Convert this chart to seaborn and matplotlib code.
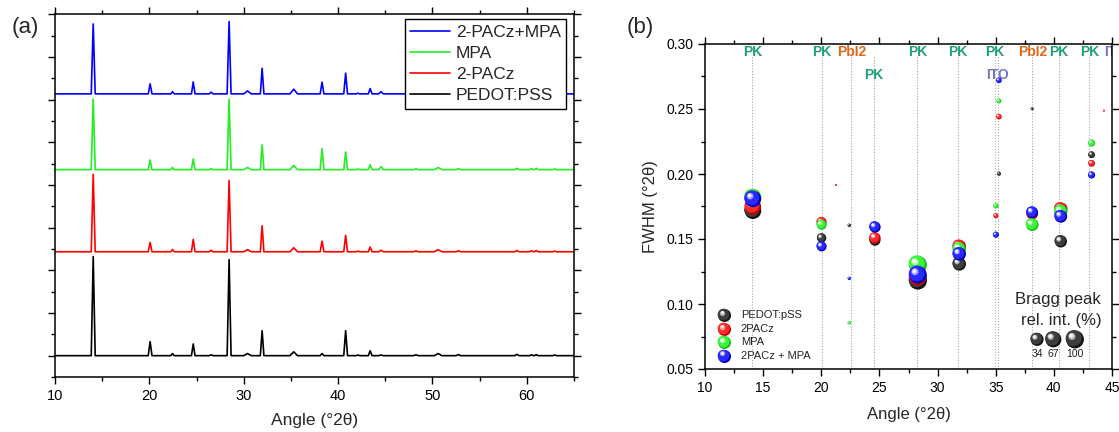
import numpy as np
import matplotlib
matplotlib.use('Agg')
import matplotlib.pyplot as plt
import matplotlib.colors as mcolors
from matplotlib.ticker import MultipleLocator
import seaborn as sns

sns.set_theme(style='ticks')
plt.rcParams['font.family'] = ['Liberation Sans', 'DejaVu Sans']
plt.rcParams['axes.linewidth'] = 1.0

# ---------------- panel (a): XRD patterns, line vertices ----------------
angle_a = [10.0,
           13.84, 14.05, 14.26, 19.88, 20.08, 20.28, 22.27, 22.45, 22.63,
           24.46, 24.65, 24.84, 26.35, 26.55, 26.75, 28.24, 28.45, 28.66,
           30.00, 30.40, 30.80, 31.76, 31.95, 32.14, 34.90, 35.30, 35.70,
           38.10, 38.30, 38.50, 40.60, 40.80, 41.00, 41.90, 42.10, 42.30,
           43.20, 43.40, 43.60, 44.30, 44.55, 44.80, 48.00, 48.25, 48.50,
           50.20, 50.60, 51.00, 52.50, 52.75, 53.00, 58.70, 58.95, 59.20,
           60.30, 60.50, 60.70, 60.80, 61.00, 61.20, 62.75, 62.95, 63.15,
           65.0]
pedot_a = [0,
           0, 4.64, 0, 0, 0.66, 0, 0, 0.10, 0,
           0, 0.55, 0, 0, 0.04, 0, 0, 4.50, 0,
           0, 0.10, 0, 0, 1.17, 0, 0, 0.18, 0,
           0, 0.10, 0, 0, 1.17, 0, 0, 0.03, 0,
           0, 0.23, 0, 0, 0.03, 0, 0, 0.04, 0,
           0, 0.10, 0, 0, 0.05, 0, 0, 0.06, 0,
           0, 0.04, 0, 0, 0.05, 0, 0, 0.03, 0,
           0]
pacz_a = [0,
          0, 3.63, 0, 0, 0.44, 0, 0, 0.10, 0,
          0, 0.58, 0, 0, 0.07, 0, 0, 3.34, 0,
          0, 0.10, 0, 0, 1.22, 0, 0, 0.19, 0,
          0, 0.50, 0, 0, 0.77, 0, 0, 0.03, 0,
          0, 0.22, 0, 0, 0.07, 0, 0, 0.04, 0,
          0, 0.10, 0, 0, 0.05, 0, 0, 0.06, 0,
          0, 0.05, 0, 0, 0.06, 0, 0, 0.03, 0,
          0]
mpa_a = [0,
         0, 3.31, 0, 0, 0.45, 0, 0, 0.10, 0,
         0, 0.50, 0, 0, 0.05, 0, 0, 3.31, 0,
         0, 0.10, 0, 0, 1.16, 0, 0, 0.19, 0,
         0, 0.98, 0, 0, 0.83, 0, 0, 0.03, 0,
         0, 0.23, 0, 0, 0.14, 0, 0, 0.03, 0,
         0, 0.10, 0, 0, 0.05, 0, 0, 0.06, 0,
         0, 0.05, 0, 0, 0.06, 0, 0, 0.03, 0,
         0]
mix_a = [0,
         0, 3.28, 0, 0, 0.47, 0, 0, 0.10, 0,
         0, 0.56, 0, 0, 0.08, 0, 0, 3.39, 0,
         0, 0.14, 0, 0, 1.20, 0, 0, 0.22, 0,
         0, 0.55, 0, 0, 0.97, 0, 0, 0.03, 0,
         0, 0.25, 0, 0, 0.10, 0, 0, 0.03, 0,
         0, 0.08, 0, 0, 0.04, 0, 0, 0.05, 0,
         0, 0.04, 0, 0, 0.05, 0, 0, 0.03, 0,
         0]

# ---------------- panel (b): FWHM vs angle, bubble = relative Bragg peak intensity (%) ----------------
pedot_x = [14.12, 20.03, 22.41, 24.62, 28.31, 31.87, 35.28, 38.14, 40.60, 43.25]
pedot_y = [0.1718, 0.1508, 0.1605, 0.1490, 0.1180, 0.1308, 0.2002, 0.2502, 0.1482, 0.2148]
pedot_int = [78, 11, 0.35, 19, 100, 37, 0.67, 0.26, 28, 3.7]

pacz_x = [14.12, 20.03, 21.26, 24.62, 28.31, 31.87, 35.02, 35.28, 38.14, 40.60, 43.25, 44.30]
pacz_y = [0.1750, 0.1630, 0.1915, 0.1508, 0.1210, 0.1443, 0.1679, 0.2441, 0.1695, 0.1731, 0.2082, 0.2487]
pacz_int = [72, 14, 0.06, 21, 97, 37, 1.4, 1.9, 24, 37, 3.7, 0.06]

mpa_x = [14.12, 20.03, 22.41, 28.31, 31.87, 35.02, 35.28, 38.14, 40.60, 43.25]
mpa_y = [0.1820, 0.1610, 0.0856, 0.1302, 0.1423, 0.1756, 0.2562, 0.1610, 0.1712, 0.2238]
mpa_int = [80, 14, 0.35, 100, 37, 1.7, 1.4, 31, 37, 4.3]

mix_x = [14.12, 20.03, 22.41, 24.62, 28.31, 31.87, 35.02, 35.28, 38.14, 40.60, 43.25]
mix_y = [0.1808, 0.1443, 0.1197, 0.1592, 0.1225, 0.1385, 0.1533, 0.2720, 0.1705, 0.1674, 0.1992]
mix_int = [75, 14, 0.35, 21, 94, 37, 2.6, 1.9, 24, 31, 4.3]

# reference peak assignments (dotted lines + labels)
ref_angle = [14.07, 20.03, 22.58, 24.50, 28.26, 31.73, 34.90, 35.16, 38.14, 40.46, 43.05, 45.30]
ref_label = ['PK', 'PK', 'PbI2', 'PK', 'PK', 'PK', 'PK', 'ITO', 'PbI2', 'PK', 'PK', 'ITO']
ref_row = [1, 1, 1, 2, 1, 1, 1, 2, 1, 1, 1, 1]

bragg_levels = [34, 67, 100]

# ---------------- figure ----------------
DPI = 100
W, H = 1119, 432
fig = plt.figure(figsize=(W / DPI, H / DPI), dpi=DPI)
ax_a = fig.add_axes([55 / W, 55 / H, 519 / W, 362.7 / H])
ax_b = fig.add_axes([705 / W, 63 / H, 407 / W, 325 / H])

for ax in (ax_a, ax_b):
    ax.set_facecolor('white')
    for sp in ax.spines.values():
        sp.set_color('black')
        sp.set_linewidth(1.1)
    ax.tick_params(which='both', direction='out', top=True, right=True,
                   labeltop=False, labelright=False, colors='black', width=1.0)
    ax.tick_params(which='major', length=5)
    ax.tick_params(which='minor', length=3)

# ---- (a)
offsets = {'PEDOT:PSS': 0.0, '2-PACz': 4.87, 'MPA': 8.72, '2-PACz+MPA': 12.27}
traces = [('PEDOT:PSS', pedot_a, 'black'), ('2-PACz', pacz_a, '#ff0000'),
          ('MPA', mpa_a, '#22ee22'), ('2-PACz+MPA', mix_a, '#0000ff')]
handles = {}
for name, vals, col in traces:
    yy = np.array(vals) + offsets[name]
    sns.lineplot(x=angle_a, y=yy, ax=ax_a, color=col, lw=1.2, sort=False,
                 estimator=None, label=name, legend=False)
    handles[name] = ax_a.lines[-1]

ax_a.set_xlim(10, 65)
ax_a.set_ylim(-1, 16)
ax_a.xaxis.set_major_locator(MultipleLocator(10))
ax_a.xaxis.set_minor_locator(MultipleLocator(5))
ax_a.yaxis.set_major_locator(MultipleLocator(2))
ax_a.yaxis.set_minor_locator(MultipleLocator(1))
ax_a.tick_params(labelleft=False, labelsize=10.5)
ax_a.set_xlabel('Angle (°2θ)', fontsize=12.5, labelpad=7)
ax_a.set_ylabel('')
order = ['2-PACz+MPA', 'MPA', '2-PACz', 'PEDOT:PSS']
leg = ax_a.legend([handles[k] for k in order], order, loc='upper right',
                  bbox_to_anchor=(0.985, 0.986), borderaxespad=0, fontsize=12.5,
                  frameon=True, fancybox=False, framealpha=1, edgecolor='black',
                  handlelength=2.3, handletextpad=0.35, labelspacing=0.35,
                  borderpad=0.3)
leg.get_frame().set_linewidth(1.0)

# ---- (b)
xmin, xmax, ymin, ymax = 10, 45, 0.05, 0.30
ax_b.set_xlim(xmin, xmax)
ax_b.set_ylim(ymin, ymax)
px_x = 407 / (xmax - xmin)
px_y = 325 / (ymax - ymin)

SMAX = (18 * 72 / DPI) ** 2
size_norm = mcolors.PowerNorm(gamma=0.6, vmin=0, vmax=100)

shades = {
    'black': ('#141414', '#3d3d3d', '#d8d8d8'),
    'red': ('#c40000', '#ff2a2a', '#ffd0d0'),
    'green': ('#1cbc1c', '#3cf43c', '#dcffdc'),
    'blue': ('#0000bc', '#2a2aff', '#d0d0ff'),
}


def glint(ax, xs, ys, s, shade, z, sx, sy, trans):
    # body + highlight drawn over a rim disc to look like a shaded ball
    xs, ys, s = np.asarray(xs, float), np.asarray(ys, float), np.asarray(s, float)
    d = np.sqrt(s) * DPI / 72
    ax.scatter(xs - 0.07 * d / sx, ys + 0.07 * d / sy, s=s * 0.80, color=shade[1],
               lw=0, zorder=z + 0.1, transform=trans, clip_on=False)
    ax.scatter(xs - 0.17 * d / sx, ys + 0.17 * d / sy, s=s * 0.16, color=shade[2],
               lw=0, alpha=0.75, zorder=z + 0.2, transform=trans, clip_on=False)
    ax.scatter(xs - 0.20 * d / sx, ys + 0.20 * d / sy, s=s * 0.05, color='white',
               lw=0, alpha=0.9, zorder=z + 0.3, transform=trans, clip_on=False)


series = [('PEDOT:pSS', pedot_x, pedot_y, pedot_int, 'black'),
          ('2PACz', pacz_x, pacz_y, pacz_int, 'red'),
          ('MPA', mpa_x, mpa_y, mpa_int, 'green'),
          ('2PACz + MPA', mix_x, mix_y, mix_int, 'blue')]
for i, (name, xs, ys, ints, key) in enumerate(series):
    z = 3 + i
    sns.scatterplot(x=xs, y=ys, size=ints, sizes=(0, SMAX), size_norm=size_norm,
                    color=shades[key][0], linewidth=0, legend=False, ax=ax_b, zorder=z)
    s = SMAX * size_norm(np.array(ints, float))
    glint(ax_b, xs, ys, s, shades[key], z, px_x, px_y, ax_b.transData)

# reference lines and labels
label_col = {'PK': '#1f9e7a', 'PbI2': '#e2661c', 'ITO': '#7577c4'}
ax_b.vlines(ref_angle, ymin, 0.2905, colors='#a8a8a8', linestyles=(0, (1, 1.5)),
            lw=0.8, zorder=1)
for a, lab, row in zip(ref_angle, ref_label, ref_row):
    ax_b.text(a, 0.294 if row == 1 else 0.2764, lab, ha='center', va='center',
              fontsize=10, fontweight='bold', color=label_col[lab], clip_on=True, zorder=2)

ax_b.xaxis.set_major_locator(MultipleLocator(5))
ax_b.xaxis.set_minor_locator(MultipleLocator(2.5))
ax_b.yaxis.set_major_locator(MultipleLocator(0.05))
ax_b.yaxis.set_minor_locator(MultipleLocator(0.025))
ax_b.yaxis.set_major_formatter(matplotlib.ticker.FormatStrFormatter('%.2f'))
ax_b.tick_params(labelsize=10)
ax_b.set_xlabel('Angle (°2θ)', fontsize=12, labelpad=9)
ax_b.set_ylabel('FWHM (°2θ)', fontsize=12, labelpad=6)

# sample legend (balls drawn in axes coordinates)
ax_px_x, ax_px_y = 407, 325
rows_y = [0.166, 0.123, 0.082, 0.041]
s_leg = SMAX * size_norm(34)
for (name, _, _, _, key), ry in zip(series, rows_y):
    ax_b.scatter([0.047], [ry], s=s_leg, color=shades[key][0], lw=0, zorder=8,
                 transform=ax_b.transAxes, clip_on=False)
    glint(ax_b, [0.047], [ry], [s_leg], shades[key], 8, ax_px_x, ax_px_y, ax_b.transAxes)
    ax_b.text(0.088, ry, name, transform=ax_b.transAxes, ha='left', va='center',
              fontsize=8, color='#222222')

# Bragg intensity key
bx = [0.816, 0.856, 0.909]
sb = SMAX * size_norm(np.array(bragg_levels, float))
ax_b.scatter(bx, [0.091] * 3, s=sb, color=shades['black'][0], lw=0, zorder=8,
             transform=ax_b.transAxes, clip_on=False)
glint(ax_b, bx, [0.091] * 3, sb, shades['black'], 8, ax_px_x, ax_px_y, ax_b.transAxes)
for xx, lv in zip(bx, bragg_levels):
    ax_b.text(xx, 0.046, str(lv), transform=ax_b.transAxes, ha='center', va='center',
              fontsize=7.5, color='#222222')
ax_b.text(0.973, 0.215, 'Bragg peak', transform=ax_b.transAxes, ha='right',
          va='center', fontsize=12)
ax_b.text(0.975, 0.148, 'rel. int. (%)', transform=ax_b.transAxes, ha='right',
          va='center', fontsize=12)

fig.text(0.0225, 0.9375, '(a)', ha='center', va='center', fontsize=16)
fig.text(0.572, 0.9375, '(b)', ha='center', va='center', fontsize=16)

fig.savefig('out.png', dpi=DPI, facecolor='white')
